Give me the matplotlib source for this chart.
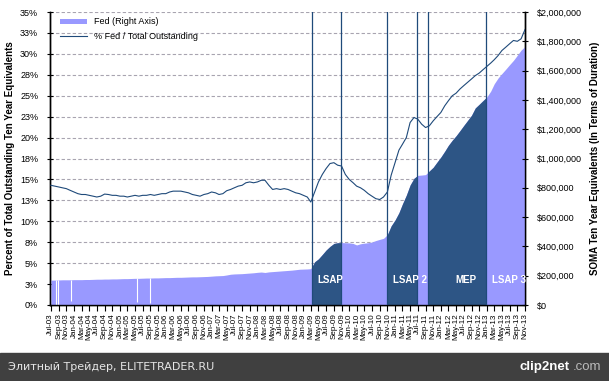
import matplotlib.pyplot as plt
import matplotlib.dates as mdates
from matplotlib.patches import Rectangle
import pandas as pd

# monthly points, Jul-03 .. Nov-13
months = pd.date_range('2003-07-01', '2013-11-01', freq='MS')

# SOMA ten-year equivalents, $ thousands (right axis)
fed_k = [
    170, 170, 171, 172, 172, 172, 173, 173, 173, 174, 174, 175,   # Jul-03 .. Jun-04
    176, 176, 177, 177, 178, 178, 179, 180, 180, 181, 182, 182,   # Jul-04 .. Jun-05
    183, 184, 184, 185, 185, 186, 187, 187, 188, 189, 189, 190,   # Jul-05 .. Jun-06
    191, 192, 192, 193, 194, 195, 197, 199, 200, 201, 205, 210,   # Jul-06 .. Jun-07
    212, 213, 214, 216, 218, 220, 223, 225, 222, 226, 228, 230,   # Jul-07 .. Jun-08
    232, 234, 236, 238, 241, 244, 245, 246, 248, 295, 315, 345,   # Jul-08 .. Jun-09
    375, 400, 420, 425, 426, 425, 424, 420, 410, 418, 422, 425,   # Jul-09 .. Jun-10
    430, 440, 448, 455, 480, 540, 580, 630, 690, 750, 819, 865,   # Jul-10 .. Jun-11
    885, 887, 890, 915, 940, 975, 1010, 1050, 1090, 1125, 1155, 1190,  # Jul-11 .. Jun-12
    1225, 1260, 1295, 1345, 1370, 1395, 1420, 1460, 1510, 1550, 1580, 1610,  # Jul-12 .. Jun-13
    1640, 1670, 1705, 1740, 1765,                                 # Jul-13 .. Nov-13
]

# Fed share of total outstanding ten-year equivalents, % (left axis)
pct_fed = [
    14.3, 14.2, 14.1, 14.0, 13.9, 13.7, 13.5, 13.3, 13.2, 13.2, 13.1, 13.0,
    12.9, 13.0, 13.25, 13.2, 13.1, 13.1, 13.0, 13.0, 12.9, 13.0, 13.1, 13.0,
    13.1, 13.1, 13.2, 13.1, 13.2, 13.3, 13.3, 13.5, 13.6, 13.6, 13.6, 13.5,
    13.4, 13.2, 13.1, 13.0, 13.2, 13.3, 13.5, 13.4, 13.2, 13.3, 13.65, 13.8,
    14.0, 14.2, 14.3, 14.6, 14.7, 14.6, 14.7, 14.9, 14.9, 14.3, 13.8, 13.9,
    13.8, 13.9, 13.8, 13.6, 13.4, 13.3, 13.1, 12.9, 12.3, 13.5, 14.7, 15.6,
    16.3, 16.9, 17.0, 16.7, 16.6, 15.6, 15.0, 14.6, 14.2, 14.0, 13.7, 13.3,
    13.0, 12.7, 12.6, 12.9, 13.5, 15.5, 17.0, 18.5, 19.2, 20.0, 21.8, 22.4,
    22.2, 21.6, 21.2, 21.4, 22.0, 22.5, 23.0, 23.8, 24.4, 25.0, 25.3, 25.8,
    26.2, 26.6, 27.0, 27.4, 27.7, 28.1, 28.5, 28.9, 29.3, 29.8, 30.4, 30.8,
    31.2, 31.6, 31.5, 31.8, 32.9,
]

# weeks with missing data (white slivers in the area), $K range they blank out
gap_dates = pd.to_datetime(['2003-08-08', '2003-08-26', '2003-12-05', '2005-05-20', '2005-08-25'])
gap_floor_k = [0, 0, 25, 20, 15]
gap_top_k = [171, 171, 173, 182, 185]

# purchase programs
program_lines = pd.to_datetime(['2009-03-10', '2009-10-28', '2010-10-28',
                                '2011-06-22', '2011-09-19', '2012-12-25'])
dark_windows = [('2009-03-10', '2009-10-28'), ('2010-10-28', '2011-06-22'),
                ('2011-09-19', '2012-12-25')]
program_names = ['LSAP', 'LSAP 2', 'MEP', 'LSAP 3']
program_label_dates = pd.to_datetime(['2009-08-01', '2011-04-28', '2012-07-19', '2013-06-25'])

left_ticks = [0, 2.5, 5, 7.5, 10, 12.5, 15, 17.5, 20, 22.5, 25, 27.5, 30, 32.5, 35]
right_ticks = list(range(0, 2000001, 200000))

LIGHT = '#9999FF'
DARK = '#2D5585'
NAVY = '#1F4A7A'

plt.rcParams['font.family'] = ['Liberation Sans', 'DejaVu Sans']

fig = plt.figure(figsize=(6.09, 3.81), dpi=100)
ax = fig.add_axes([50 / 609, 76 / 381, 475 / 609, 293 / 381])
ax2 = ax.twinx()

# left axis: % scale with dashed grid
ax.set_ylim(0, 35)
ax.set_yticks(left_ticks)
ax.set_yticklabels([f'{t:.0f}%' if t % 5 == 0 else f'{t + 0.5:.0f}%' for t in left_ticks])
ax.yaxis.grid(True, color='#A8A4B0', linestyle=(0, (3, 2)), linewidth=0.8)
ax.set_axisbelow(True)
ax.set_ylabel('Percent of Total Outstanding Ten Year Equivalents', fontsize=7,
              fontweight='bold', labelpad=4)

# right axis: dollars
fed = [v * 1000 for v in fed_k]
ax2.set_ylim(0, 2000000)
ax2.set_yticks(right_ticks)
ax2.set_yticklabels([f'${t:,.0f}' for t in right_ticks])
ax2.set_ylabel('SOMA Ten Year Equivalents (In Terms of Duration)', fontsize=7,
               fontweight='bold', labelpad=6)

ax2.fill_between(months, 0, fed, color=LIGHT, linewidth=0, label='Fed (Right Axis)')
for start, end in dark_windows:
    dark = ax2.fill_between(months, 0, fed, color=DARK, linewidth=0)
    span = ax2.axvspan(pd.Timestamp(start), pd.Timestamp(end), alpha=0)
    dark.set_clip_path(span)

ax2.vlines(gap_dates, [v * 1000 for v in gap_floor_k], [v * 1000 for v in gap_top_k],
           color='white', linewidth=0.8)

for d in program_lines:
    ax2.axvline(d, color=NAVY, linewidth=0.9, zorder=3)

for name, d in zip(program_names, program_label_dates):
    ax2.text(d, 170000, name, color='white', fontsize=7, fontweight='bold',
             ha='center', va='center', zorder=4)

line, = ax2.plot(months, pct_fed, color=NAVY, linewidth=0.8, transform=ax.transData,
                 zorder=5, label='% Fed / Total Outstanding')

# x axis: date labels every two months
ax.set_xlim(pd.Timestamp('2003-06-24'), pd.Timestamp('2013-11-01'))
ax.xaxis.set_major_locator(mdates.MonthLocator(bymonth=[1, 3, 5, 7, 9, 11]))
ax.xaxis.set_major_formatter(mdates.DateFormatter('%b-%y'))
for lbl in ax.get_xticklabels():
    lbl.set_rotation(90)

ax.tick_params(axis='y', direction='inout', length=5, width=0.8, labelsize=6.5, pad=6)
ax2.tick_params(axis='y', direction='inout', length=5, width=0.8, labelsize=6.5, pad=6)
ax.tick_params(axis='x', direction='out', length=4, width=0.8, labelsize=5.8, pad=2)
for a in (ax, ax2):
    a.spines['top'].set_visible(False)
    for s in ('left', 'right', 'bottom'):
        a.spines[s].set_linewidth(1.0)
ax2.patch.set_visible(False)

handles = [ax2.collections[0], line]
ax2.legend(handles, ['Fed (Right Axis)', '% Fed / Total Outstanding'],
           loc='upper left', bbox_to_anchor=(0.01, 1.0), frameon=False, fontsize=6.5,
           handlelength=3, handleheight=0.5, labelspacing=0.6, borderaxespad=0.2)

# footer strip
fig.patches.append(Rectangle((0, 0), 1, 28 / 381, transform=fig.transFigure,
                             color='#404040', zorder=0))
fig.text(8 / 609, 14 / 381, 'Элитный Трейдер, ELITETRADER.RU', color='#E6E6E6',
         fontsize=8, family='DejaVu Sans', va='center', ha='left')
fig.text(520 / 609, 14 / 381, 'clip2net', color='white', fontsize=9.5, fontweight='bold',
         va='center', ha='left')
fig.text(573 / 609, 14 / 381, '.com', color='#BBBBBB', fontsize=9.5,
         va='center', ha='left')

fig.savefig('out.png', dpi=100)
